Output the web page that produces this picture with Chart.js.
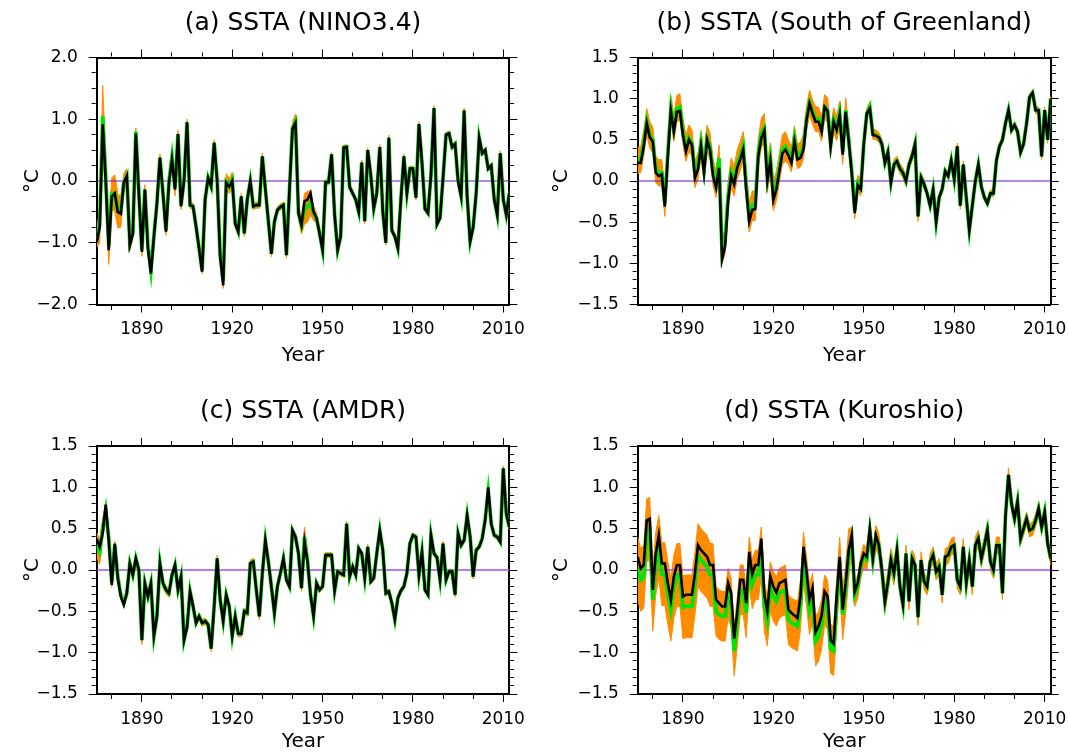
<!DOCTYPE html>
<html>
<head>
<meta charset="utf-8">
<title>SSTA</title>
<script src="https://cdn.jsdelivr.net/npm/chart.js@4.4.0/dist/chart.umd.min.js"></script>
<style>
    html, body { margin: 0; padding: 0; background: #fff; }
    #wrap { position: relative; width: 1068px; height: 754px; overflow: hidden; background: #fff; }
    .panel { position: absolute; width: 534px; height: 377px; }
    .panel canvas { display: block; }
</style>
</head>
<body>
<div id="wrap">
    <div class="panel" style="left:0;top:0"><canvas id="chartA" width="534" height="377"></canvas></div>
    <div class="panel" style="left:534px;top:0"><canvas id="chartB" width="534" height="377"></canvas></div>
    <div class="panel" style="left:0;top:377px"><canvas id="chartC" width="534" height="377"></canvas></div>
    <div class="panel" style="left:534px;top:377px"><canvas id="chartD" width="534" height="377"></canvas></div>
</div>
<script>
// years 1875..2012, one value per year
const firstYear = 1875;
const lastYear = 2012;
const years = Array.from({ length: lastYear - firstYear + 1 }, (_, i) => firstYear + i);

const xTickLabels = [1890, 1920, 1950, 1980, 2010];
const yTickLabelsA = [-2, -1, 0, 1, 2];
const yTickLabelsBCD = [-1.5, -1, -0.5, 0, 0.5, 1, 1.5];

// (a) NINO3.4
const ninoObs = [
    -0.99,-0.75,0.92,0.0,-1.12,-0.25,-0.2,-0.5,-0.53,-0.03,
    0.08,-1.04,-0.85,0.77,-0.2,-1.15,-0.14,-1.09,-1.5,-0.9,
    -0.36,0.38,-0.2,-0.82,-0.03,0.35,-0.14,0.76,-0.41,0.0,
    0.95,-0.39,-0.41,-0.74,-1.1,-1.47,-0.3,0.05,-0.09,0.62,
    0.0,-1.23,-1.69,-0.03,-0.09,0.0,-0.69,-0.82,-0.25,-0.85,
    -0.3,0.0,-0.41,-0.39,-0.39,0.4,-0.13,-0.65,-1.18,-0.66,
    -0.47,-0.42,-0.39,-1.2,-0.15,0.84,0.94,-0.52,-0.71,-0.33,
    -0.3,-0.2,-0.5,-0.6,-0.85,-1.12,-0.02,-0.02,0.43,-0.55,
    -1.12,-0.9,0.54,0.55,-0.1,-0.2,-0.3,-0.5,0.3,-0.65,
    0.5,0.1,-0.45,-0.2,0.55,-0.5,-1.0,0.7,-0.8,-0.9,
    -1.09,-0.3,0.4,-0.2,0.2,0.2,-0.27,0.92,0.3,-0.45,
    -0.52,0.1,1.18,-0.7,-0.6,0.05,0.75,0.77,0.55,0.6,
    0.0,-0.25,1.14,-0.25,-0.98,-0.75,-0.2,0.7,0.45,0.5,
    0.2,0.25,-0.3,-0.55,0.45,-0.3,-0.55,-0.2
];
const ninoEns = [
    -0.95,-0.7,1.05,0.05,-1.05,-0.2,-0.2,-0.48,-0.5,-0.03,
    0.08,-1.0,-0.85,0.8,-0.2,-1.12,-0.14,-1.05,-1.45,-0.88,
    -0.36,0.38,-0.2,-0.8,0.0,0.38,-0.12,0.76,-0.4,0.02,
    0.95,-0.39,-0.41,-0.74,-1.08,-1.45,-0.3,0.05,-0.09,0.62,
    0.02,-1.2,-1.62,-0.02,-0.08,0.02,-0.69,-0.82,-0.25,-0.85,
    -0.3,0.0,-0.41,-0.39,-0.39,0.4,-0.13,-0.65,-1.18,-0.66,
    -0.47,-0.42,-0.39,-1.2,-0.15,0.86,0.96,-0.52,-0.71,-0.45,
    -0.42,-0.35,-0.52,-0.6,-0.85,-1.12,-0.02,-0.02,0.43,-0.55,
    -1.12,-0.9,0.54,0.55,-0.1,-0.2,-0.3,-0.5,0.3,-0.65,
    0.5,0.1,-0.45,-0.2,0.55,-0.5,-1.0,0.7,-0.8,-0.9,
    -1.09,-0.3,0.4,-0.2,0.2,0.2,-0.27,0.92,0.3,-0.45,
    -0.52,0.1,1.18,-0.7,-0.6,0.05,0.75,0.77,0.55,0.6,
    0.0,-0.25,1.14,-0.25,-0.98,-0.75,-0.2,0.7,0.45,0.5,
    0.2,0.25,-0.3,-0.55,0.45,-0.3,-0.55,-0.2
];
const ninoSpread = [
    0.12,0.3,0.5,0.35,0.3,0.25,0.3,0.28,0.25,0.15,
    0.12,0.12,0.1,0.06,0.08,0.1,0.08,0.08,0.08,0.06,
    0.06,0.06,0.06,0.08,0.12,0.15,0.12,0.06,0.06,0.06,
    0.05,0.05,0.05,0.05,0.05,0.05,0.05,0.05,0.05,0.05,
    0.08,0.1,0.12,0.14,0.12,0.12,0.06,0.05,0.05,0.05,
    0.05,0.05,0.05,0.05,0.05,0.05,0.05,0.05,0.05,0.05,
    0.05,0.05,0.05,0.05,0.06,0.1,0.12,0.1,0.15,0.25,
    0.25,0.2,0.12,0.08,0.06,0.05,0.04,0.04,0.04,0.04,
    0.04,0.04,0.04,0.04,0.04,0.04,0.04,0.04,0.04,0.04,
    0.04,0.04,0.04,0.04,0.04,0.04,0.04,0.04,0.04,0.04,
    0.04,0.04,0.04,0.04,0.04,0.04,0.04,0.04,0.04,0.04,
    0.04,0.04,0.04,0.04,0.04,0.04,0.04,0.04,0.04,0.04,
    0.04,0.04,0.04,0.04,0.04,0.04,0.04,0.04,0.04,0.04,
    0.04,0.04,0.04,0.04,0.04,0.04,0.04,0.04
];

// (b) South of Greenland
const greenlandObs = [
    0.22,0.22,0.42,0.70,0.53,0.48,0.10,0.06,0.08,-0.31,
    0.30,0.85,0.60,0.84,0.85,0.56,0.36,0.50,0.44,0.04,
    0.14,0.42,0.10,0.50,0.38,0.06,-0.08,0.16,-0.95,-0.79,
    -0.23,0.06,-0.04,0.16,0.26,0.38,-0.10,-0.49,-0.35,-0.34,
    0.30,0.52,0.61,0.00,0.24,-0.23,-0.10,0.12,0.34,0.38,
    0.31,0.22,0.48,0.26,0.28,0.38,0.74,0.94,0.82,0.72,
    0.72,0.60,0.90,0.85,0.42,0.72,0.62,0.80,0.32,0.84,
    0.48,0.10,-0.39,-0.05,-0.10,0.45,0.82,0.88,0.56,0.55,
    0.53,0.45,0.22,0.35,-0.02,0.20,0.24,0.15,0.10,0.00,
    0.20,0.30,0.45,-0.43,0.04,-0.04,-0.15,-0.30,-0.10,-0.50,
    -0.20,-0.10,0.12,0.06,0.25,0.02,0.42,-0.30,0.20,-0.20,
    -0.60,-0.30,0.00,0.20,-0.07,-0.20,-0.27,-0.15,-0.15,0.25,
    0.42,0.50,0.70,0.86,0.62,0.68,0.60,0.35,0.45,0.70,
    1.02,1.07,0.86,0.86,0.30,0.86,0.50,1.00
];
const greenlandEns = [
    0.25,0.26,0.46,0.72,0.56,0.5,0.14,0.1,0.1,-0.27,
    0.34,0.88,0.64,0.88,0.9,0.6,0.4,0.52,0.46,0.08,
    0.18,0.45,0.14,0.52,0.42,0.1,-0.04,0.28,-0.88,-0.72,
    -0.18,0.1,0.0,0.2,0.3,0.42,-0.06,-0.44,-0.3,-0.3,
    0.34,0.58,0.64,0.04,0.28,-0.18,-0.06,0.16,0.38,0.42,
    0.35,0.26,0.52,0.3,0.32,0.42,0.76,0.95,0.84,0.75,
    0.75,0.63,0.9,0.86,0.45,0.74,0.64,0.82,0.35,0.86,
    0.5,0.12,-0.36,-0.03,-0.08,0.46,0.82,0.9,0.57,0.56,
    0.53,0.45,0.22,0.35,-0.02,0.20,0.24,0.15,0.10,0.00,
    0.20,0.30,0.45,-0.43,0.04,-0.04,-0.15,-0.30,-0.10,-0.50,
    -0.20,-0.10,0.12,0.06,0.25,0.02,0.42,-0.30,0.20,-0.20,
    -0.60,-0.30,0.00,0.20,-0.07,-0.20,-0.27,-0.15,-0.15,0.25,
    0.42,0.50,0.70,0.86,0.62,0.68,0.60,0.35,0.45,0.70,
    1.02,1.07,0.86,0.86,0.30,0.86,0.50,1.00
];
const greenlandSpread = [
    0.16,0.16,0.16,0.16,0.16,0.16,0.16,0.16,0.16,0.16,
    0.16,0.16,0.16,0.16,0.16,0.16,0.16,0.16,0.16,0.16,
    0.16,0.16,0.16,0.16,0.16,0.16,0.16,0.16,0.12,0.16,
    0.18,0.18,0.18,0.18,0.18,0.18,0.18,0.18,0.18,0.18,
    0.18,0.18,0.18,0.18,0.18,0.18,0.18,0.18,0.18,0.18,
    0.15,0.15,0.15,0.15,0.15,0.15,0.15,0.15,0.15,0.15,
    0.15,0.15,0.15,0.15,0.15,0.15,0.15,0.15,0.15,0.15,
    0.15,0.1,0.1,0.1,0.1,0.1,0.06,0.06,0.06,0.06,
    0.06,0.06,0.06,0.06,0.06,0.06,0.06,0.06,0.06,0.06,
    0.06,0.06,0.06,0.06,0.06,0.06,0.04,0.04,0.04,0.04,
    0.04,0.04,0.04,0.04,0.04,0.04,0.04,0.04,0.04,0.04,
    0.04,0.04,0.04,0.04,0.04,0.04,0.04,0.04,0.04,0.04,
    0.04,0.04,0.04,0.04,0.04,0.04,0.04,0.04,0.04,0.04,
    0.04,0.04,0.04,0.04,0.04,0.04,0.04,0.04
];

// (c) AMDR
const amdrObs = [
    0.38,0.28,0.45,0.79,0.36,-0.18,0.32,-0.10,-0.32,-0.42,
    -0.28,0.08,-0.06,0.14,0.00,-0.85,-0.16,-0.32,-0.16,-0.80,
    -0.56,0.08,-0.16,-0.24,-0.28,-0.06,0.06,-0.24,-0.08,-0.85,
    -0.69,-0.26,-0.44,-0.64,-0.56,-0.64,-0.62,-0.66,-0.95,-0.44,
    0.14,-0.36,-0.62,-0.30,-0.44,-0.80,-0.56,-0.77,-0.77,-0.50,
    -0.52,0.08,0.10,-0.24,-0.56,-0.04,0.36,0.10,-0.20,-0.52,
    -0.20,-0.04,0.14,-0.12,-0.20,0.48,0.40,0.20,-0.22,0.34,
    0.10,-0.30,-0.56,-0.16,-0.24,-0.20,0.18,0.18,0.18,-0.25,
    -0.02,-0.04,-0.06,0.56,-0.08,0.04,-0.06,0.26,0.20,-0.10,
    0.28,-0.14,-0.10,0.20,0.48,0.24,-0.28,-0.26,-0.40,-0.60,
    -0.34,-0.25,-0.20,-0.04,0.32,0.42,0.40,-0.06,0.22,-0.24,
    -0.30,0.42,0.20,0.15,-0.12,0.32,-0.12,-0.02,-0.02,-0.30,
    0.44,0.30,0.36,0.66,0.40,-0.08,0.24,0.28,0.38,0.60,
    1.00,0.56,0.42,0.40,0.34,1.23,0.68,0.52
];
const amdrEns = [
    0.3,0.22,0.5,0.72,0.38,-0.15,0.3,-0.08,-0.3,-0.4,
    -0.28,0.08,-0.06,0.14,0.00,-0.85,-0.16,-0.32,-0.16,-0.80,
    -0.56,0.08,-0.16,-0.24,-0.28,-0.06,0.06,-0.24,-0.08,-0.85,
    -0.69,-0.26,-0.44,-0.64,-0.56,-0.64,-0.62,-0.66,-0.95,-0.44,
    0.14,-0.36,-0.62,-0.30,-0.44,-0.80,-0.56,-0.77,-0.77,-0.50,
    -0.52,0.08,0.10,-0.24,-0.56,-0.04,0.36,0.10,-0.20,-0.52,
    -0.20,-0.04,0.14,-0.12,-0.20,0.48,0.40,0.20,-0.22,0.40,
    0.12,-0.30,-0.56,-0.16,-0.24,-0.20,0.18,0.18,0.18,-0.25,
    -0.02,-0.04,-0.06,0.56,-0.08,0.04,-0.06,0.26,0.20,-0.10,
    0.28,-0.14,-0.10,0.20,0.48,0.24,-0.28,-0.26,-0.40,-0.60,
    -0.34,-0.25,-0.20,-0.04,0.32,0.42,0.40,-0.06,0.22,-0.24,
    -0.30,0.42,0.20,0.15,-0.12,0.32,-0.12,-0.02,-0.02,-0.30,
    0.44,0.30,0.36,0.66,0.40,-0.08,0.24,0.28,0.38,0.62,
    0.95,0.56,0.42,0.40,0.34,1.23,0.68,0.52
];
const amdrSpread = [
    0.15,0.15,0.12,0.1,0.08,0.06,0.05,0.05,0.05,0.05,
    0.05,0.05,0.05,0.05,0.05,0.05,0.05,0.05,0.05,0.05,
    0.05,0.05,0.05,0.05,0.05,0.05,0.04,0.04,0.04,0.04,
    0.04,0.04,0.04,0.04,0.04,0.04,0.04,0.04,0.04,0.04,
    0.04,0.04,0.04,0.04,0.04,0.04,0.04,0.04,0.04,0.04,
    0.04,0.04,0.04,0.04,0.04,0.04,0.04,0.04,0.04,0.04,
    0.04,0.04,0.04,0.04,0.04,0.04,0.04,0.04,0.04,0.12,
    0.06,0.03,0.03,0.03,0.03,0.03,0.03,0.03,0.03,0.03,
    0.03,0.03,0.03,0.03,0.03,0.03,0.03,0.03,0.03,0.03,
    0.03,0.03,0.03,0.03,0.03,0.03,0.03,0.03,0.03,0.03,
    0.03,0.03,0.03,0.03,0.03,0.03,0.03,0.03,0.03,0.03,
    0.03,0.03,0.03,0.03,0.03,0.03,0.03,0.03,0.03,0.03,
    0.03,0.03,0.03,0.03,0.03,0.03,0.03,0.03,0.03,0.05,
    0.06,0.03,0.03,0.03,0.03,0.03,0.03,0.03
];

// (d) Kuroshio
const kuroshioObs = [
    0.16,0.02,0.06,0.60,0.62,-0.24,0.20,0.42,0.08,0.08,
    -0.16,-0.36,-0.08,0.06,0.06,-0.32,-0.30,-0.30,-0.30,-0.04,
    0.30,0.24,0.20,0.16,0.06,0.06,-0.36,-0.40,-0.44,-0.44,
    -0.16,-0.28,-0.83,-0.52,-0.12,-0.12,-0.40,0.22,-0.05,0.06,
    0.06,0.38,-0.30,-0.50,-0.08,-0.20,-0.27,-0.16,-0.14,-0.12,
    -0.48,-0.52,-0.55,-0.58,-0.32,0.28,-0.02,-0.36,-0.22,-0.75,
    -0.68,-0.55,-0.26,-0.32,-0.85,-0.89,-0.32,0.16,-0.48,-0.16,
    0.24,0.42,-0.26,-0.16,0.08,0.20,0.16,0.50,0.14,0.42,
    0.30,0.00,-0.38,-0.15,0.12,-0.04,0.24,-0.20,-0.42,0.20,
    -0.38,0.14,0.06,-0.57,0.12,-0.14,-0.20,0.10,0.18,-0.02,
    0.04,-0.30,0.16,0.18,0.28,0.30,-0.12,-0.20,0.28,-0.16,
    0.12,-0.20,0.30,0.38,0.14,0.30,0.48,0.10,0.00,0.30,
    0.30,-0.28,0.65,1.15,0.80,0.62,0.83,0.38,0.50,0.62,
    0.48,0.50,0.60,0.74,0.52,0.70,0.32,0.14
];
const kuroshioEns = [
    0.02,-0.12,-0.08,0.48,0.5,-0.36,0.08,0.28,-0.05,-0.05,
    -0.28,-0.48,-0.2,-0.06,-0.06,-0.45,-0.44,-0.44,-0.44,-0.16,
    0.18,0.12,0.08,0.04,-0.06,-0.06,-0.5,-0.54,-0.56,-0.56,
    -0.28,-0.4,-0.98,-0.64,-0.24,-0.24,-0.52,0.1,-0.17,-0.06,
    -0.06,0.22,-0.44,-0.62,-0.2,-0.32,-0.38,-0.28,-0.26,-0.24,
    -0.6,-0.64,-0.66,-0.68,-0.42,0.16,-0.14,-0.48,-0.34,-0.86,
    -0.8,-0.66,-0.36,-0.42,-0.95,-0.98,-0.4,0.1,-0.54,-0.22,
    0.2,0.38,-0.3,-0.2,0.04,0.17,0.13,0.47,0.12,0.4,
    0.30,0.00,-0.38,-0.15,0.12,-0.04,0.24,-0.20,-0.42,0.20,
    -0.38,0.14,0.06,-0.57,0.12,-0.14,-0.20,0.10,0.18,-0.02,
    0.04,-0.30,0.16,0.18,0.28,0.30,-0.12,-0.20,0.28,-0.16,
    0.12,-0.20,0.30,0.38,0.14,0.30,0.48,0.10,0.00,0.30,
    0.30,-0.28,0.65,1.15,0.80,0.62,0.83,0.38,0.50,0.62,
    0.48,0.50,0.60,0.74,0.52,0.70,0.32,0.14
];
const kuroshioSpread = [
    0.38,0.38,0.38,0.38,0.38,0.38,0.38,0.38,0.38,0.38,
    0.38,0.38,0.38,0.38,0.38,0.38,0.38,0.38,0.38,0.38,
    0.38,0.38,0.38,0.38,0.38,0.38,0.3,0.3,0.3,0.3,
    0.3,0.3,0.3,0.3,0.3,0.3,0.3,0.3,0.3,0.3,
    0.3,0.3,0.3,0.3,0.3,0.3,0.3,0.3,0.3,0.3,
    0.3,0.3,0.3,0.3,0.3,0.3,0.3,0.3,0.3,0.3,
    0.3,0.3,0.3,0.3,0.3,0.3,0.3,0.3,0.3,0.3,
    0.3,0.14,0.14,0.14,0.14,0.14,0.14,0.14,0.14,0.14,
    0.14,0.14,0.14,0.14,0.14,0.14,0.1,0.1,0.1,0.1,
    0.1,0.1,0.1,0.1,0.1,0.1,0.1,0.1,0.1,0.1,
    0.1,0.1,0.1,0.1,0.1,0.1,0.1,0.1,0.1,0.1,
    0.1,0.1,0.1,0.1,0.1,0.1,0.1,0.1,0.1,0.1,
    0.1,0.08,0.08,0.08,0.08,0.08,0.08,0.08,0.08,0.08,
    0.08,0.08,0.08,0.08,0.08,0.08,0.08,0.08
];

const ORANGE = '#ff8c00';
const GREEN = '#00e400';

Chart.defaults.font.family = "'DejaVu Sans', sans-serif";
Chart.defaults.color = '#000';

class SstaPanel {
    constructor(canvasId, cfg) {
        this.canvas = document.getElementById(canvasId);
        this.cfg = cfg;
        this.chart = null;
        this.init();
    }

    init() {
        this.chart = new Chart(this.canvas.getContext('2d'), {
            type: 'line',
            data: { datasets: this.buildDatasets() },
            options: this.buildOptions()
        });
    }

    buildDatasets() {
        const c = this.cfg;
        const pts = arr => years.map((yr, i) => ({ x: yr, y: arr[i] }));
        const lower = c.ens.map((v, i) => v - c.spread[i]);
        const upper = c.ens.map((v, i) => v + c.spread[i]);
        return [
            { label: 'Obs', data: pts(c.obs), borderColor: '#000', borderWidth: 2.6, order: 0 },
            { label: 'Ensemble mean', data: pts(c.ens), borderColor: GREEN, borderWidth: 3.8, order: 1 },
            {
                label: 'Zero',
                data: [{ x: firstYear, y: 0 }, { x: lastYear, y: 0 }],
                borderColor: c.zeroColor,
                borderWidth: c.zeroWidth,
                order: 2
            },
            { label: 'Members min', data: pts(lower), borderColor: ORANGE, borderWidth: 1, order: 3 },
            {
                label: 'Members max',
                data: pts(upper),
                borderColor: ORANGE,
                borderWidth: 1,
                backgroundColor: ORANGE,
                fill: '-1',
                order: 4
            }
        ];
    }

    buildOptions() {
        const c = this.cfg;
        const W = 534, H = 377;
        const area = c.area;

        const padLeft = c.yTitleX - 12;
        const padRight = W - area.right;
        const padTop = c.titleY - 15;
        const titleGap = area.top - padTop - 30;
        const padBottom = Math.max(0, H - c.yearY - 12);
        const yWidth = area.left - padLeft;
        const xHeight = H - padBottom - area.bottom;

        const near = (v, list) => list.some(l => Math.abs(l - v) < 1e-6);
        const fmt = v => (v < -1e-9 ? '\u2212' : '') + Math.abs(v).toFixed(1);
        const isMajorX = v => near(v, xTickLabels);
        const isMajorY = v => near(v, c.yLabels);

        // minor ticks are shorter: dash hides the outer part
        const dash = (isMajor, outerFirst) => ctx =>
            (ctx.tick && !isMajor(ctx.tick.value)) ? (outerFirst ? [0, 3, 4, 40] : [4, 40]) : [];
        const grid = (isMajor, outerFirst) => ({
            display: true,
            drawOnChartArea: false,
            drawTicks: true,
            tickLength: 8,
            color: 'rgba(0,0,0,0)',
            tickColor: '#000',
            tickWidth: 1,
            tickBorderDash: dash(isMajor, outerFirst)
        });
        const border = { display: true, color: '#000', width: 2 };

        const xBase = { type: 'linear', min: firstYear, max: lastYear, border: border };
        const yBase = { type: 'linear', min: c.yMin, max: c.yMax, border: border };

        return {
            responsive: false,
            animation: false,
            devicePixelRatio: 1,
            events: [],
            layout: { padding: { left: padLeft, right: padRight, top: padTop, bottom: padBottom } },
            elements: {
                line: { tension: 0, fill: false },
                point: { radius: 0 }
            },
            plugins: {
                legend: { display: false },
                tooltip: { enabled: false },
                title: {
                    display: true,
                    text: c.title,
                    fullSize: false,
                    color: '#000',
                    font: { size: 25, weight: 'normal' },
                    padding: { top: 0, bottom: titleGap }
                }
            },
            scales: {
                x: Object.assign({}, xBase, {
                    position: 'bottom',
                    grid: grid(isMajorX, false),
                    ticks: {
                        stepSize: 10,
                        includeBounds: false,
                        autoSkip: false,
                        maxRotation: 0,
                        padding: 7,
                        font: { size: 17 },
                        callback: v => isMajorX(v) ? String(v) : ''
                    },
                    title: {
                        display: true,
                        text: 'Year',
                        font: { size: 20 },
                        padding: { top: 0, bottom: 0 }
                    },
                    afterFit: s => { s.height = xHeight; s.paddingLeft = 0; s.paddingRight = 0; }
                }),
                x2: Object.assign({}, xBase, {
                    position: 'top',
                    grid: grid(isMajorX, true),
                    ticks: { display: false, stepSize: 10, includeBounds: false, autoSkip: false },
                    afterFit: s => { s.height = 0; s.paddingLeft = 0; s.paddingRight = 0; }
                }),
                y: Object.assign({}, yBase, {
                    position: 'left',
                    grid: grid(isMajorY, true),
                    ticks: {
                        stepSize: c.yStep,
                        autoSkip: false,
                        padding: 11,
                        font: { size: 17 },
                        callback: v => isMajorY(v) ? fmt(v) : ''
                    },
                    title: {
                        display: true,
                        text: '\u00b0C',
                        font: { size: 20 },
                        padding: 0
                    },
                    afterFit: s => { s.width = yWidth; s.paddingTop = 0; s.paddingBottom = 0; }
                }),
                y2: Object.assign({}, yBase, {
                    position: 'right',
                    grid: grid(isMajorY, false),
                    ticks: { display: false, stepSize: c.yStep, autoSkip: false },
                    afterFit: s => { s.width = 0; s.paddingTop = 0; s.paddingBottom = 0; }
                })
            }
        };
    }
}

document.addEventListener('DOMContentLoaded', () => {
    new SstaPanel('chartA', {
        title: '(a) SSTA (NINO3.4)',
        obs: ninoObs, ens: ninoEns, spread: ninoSpread,
        yMin: -2, yMax: 2, yStep: 0.25, yLabels: yTickLabelsA,
        area: { left: 96.7, right: 509.3, top: 57.5, bottom: 304.5 },
        titleY: 23, yTitleX: 33, yearY: 356, zeroColor: '#6a0dc8', zeroWidth: 1
    });
    new SstaPanel('chartB', {
        title: '(b) SSTA (South of Greenland)',
        obs: greenlandObs, ens: greenlandEns, spread: greenlandSpread,
        yMin: -1.5, yMax: 1.5, yStep: 0.1, yLabels: yTickLabelsBCD,
        area: { left: 103.7, right: 516.7, top: 57.5, bottom: 304.5 },
        titleY: 23, yTitleX: 28, yearY: 356, zeroColor: '#6a0dc8', zeroWidth: 1
    });
    new SstaPanel('chartC', {
        title: '(c) SSTA (AMDR)',
        obs: amdrObs, ens: amdrEns, spread: amdrSpread,
        yMin: -1.5, yMax: 1.5, yStep: 0.1, yLabels: yTickLabelsBCD,
        area: { left: 96.7, right: 509.3, top: 69, bottom: 317 },
        titleY: 34, yTitleX: 33, yearY: 368, zeroColor: '#a24cf0', zeroWidth: 1.6
    });
    new SstaPanel('chartD', {
        title: '(d) SSTA (Kuroshio)',
        obs: kuroshioObs, ens: kuroshioEns, spread: kuroshioSpread,
        yMin: -1.5, yMax: 1.5, yStep: 0.1, yLabels: yTickLabelsBCD,
        area: { left: 103.7, right: 516.7, top: 69, bottom: 317 },
        titleY: 34, yTitleX: 28, yearY: 368, zeroColor: '#a24cf0', zeroWidth: 1.6
    });
});
</script>
</body>
</html>
